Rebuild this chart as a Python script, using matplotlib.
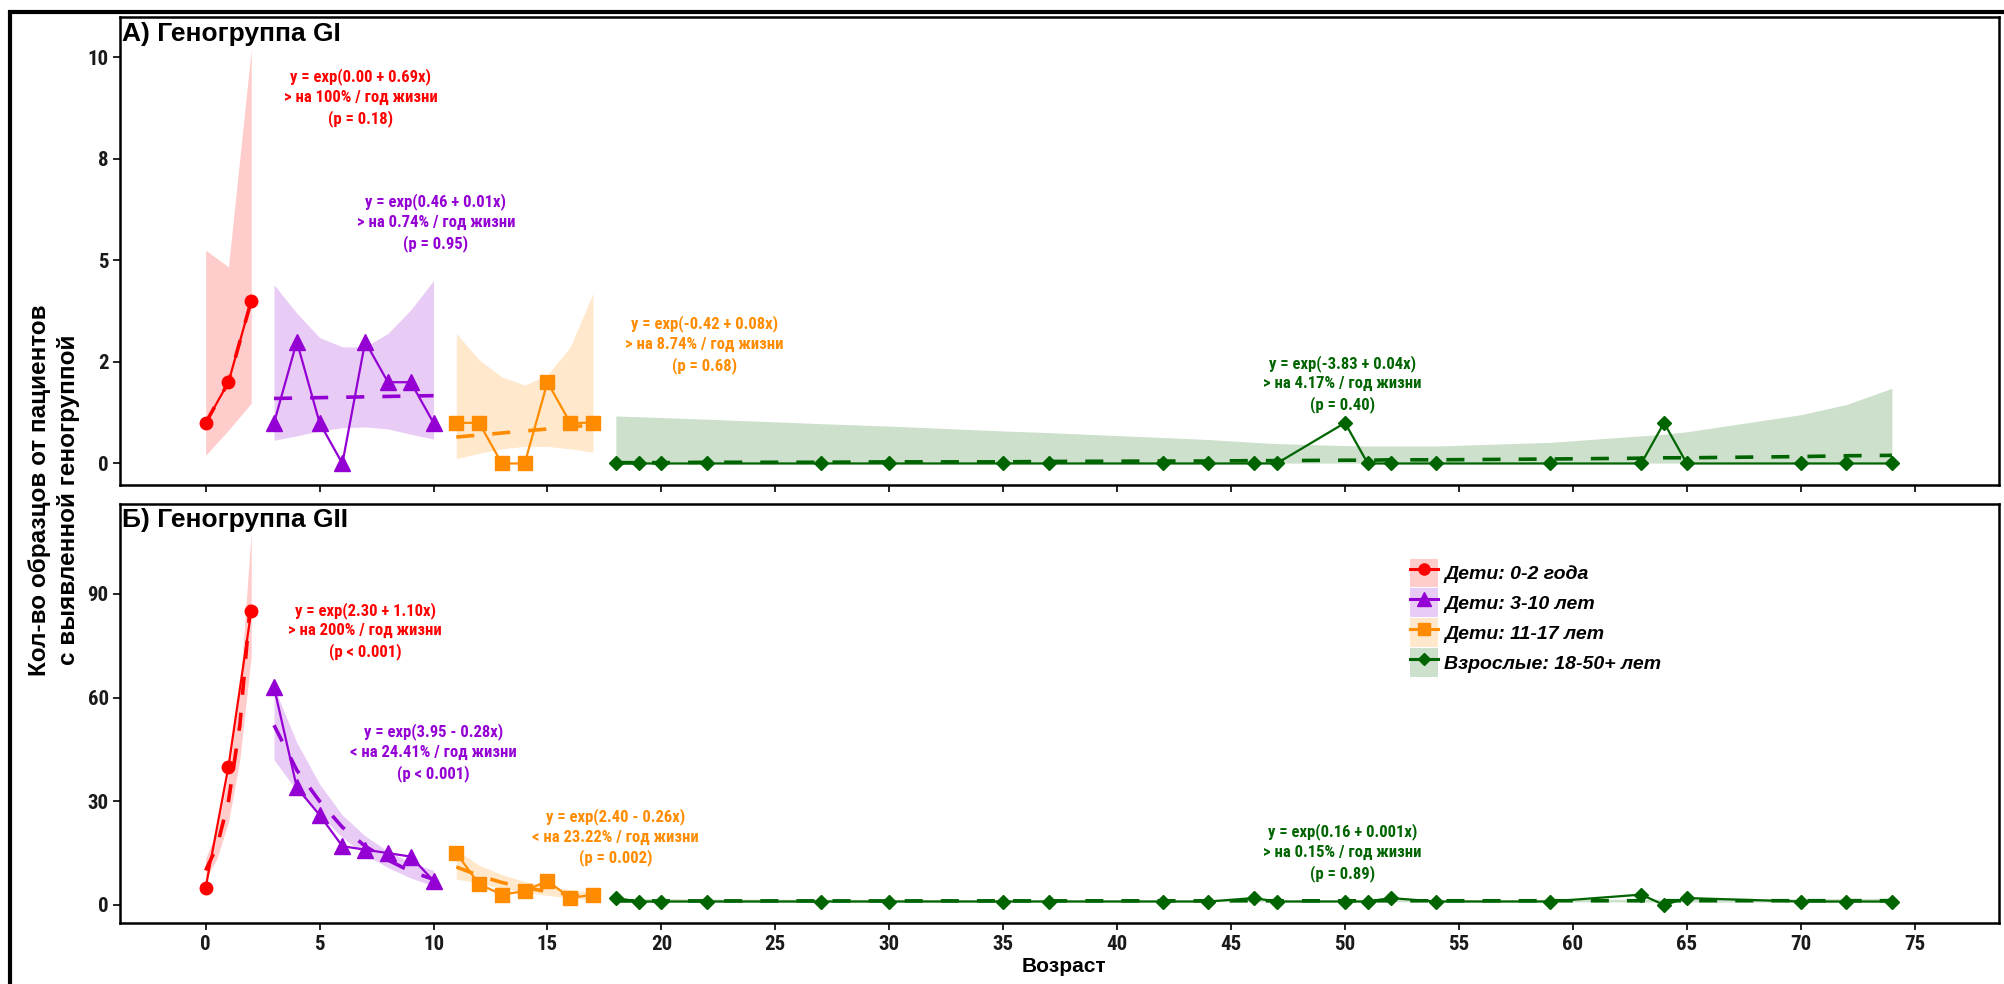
import matplotlib
matplotlib.use("Agg")
import matplotlib.pyplot as plt
from matplotlib import font_manager
from matplotlib.font_manager import FontProperties
from matplotlib.patches import Patch, Rectangle
from matplotlib.lines import Line2D
from matplotlib.legend_handler import HandlerTuple

names = {f.name for f in font_manager.fontManager.ttflist}
MAIN = "Liberation Sans" if "Liberation Sans" in names else "DejaVu Sans"


def _wt(w):
    if isinstance(w, str):
        return {"bold": 700, "semibold": 600, "demibold": 600, "heavy": 800,
                "black": 900, "extra bold": 800}.get(w, 400)
    return w


cands = []
for f in font_manager.fontManager.ttflist:
    nm = f.name
    st = str(f.stretch)
    narrow = ("Narrow" in nm or "Condensed" in nm or st in ("condensed", "semi-condensed", "extra-condensed"))
    if narrow and f.style == "normal" and _wt(f.weight) >= 600:
        pri = 9
        if "Liberation Sans Narrow" in nm:
            pri = 0
        elif "Roboto" in nm:
            pri = 1
        elif "Open Sans" in nm:
            pri = 2
        elif "Noto Sans" in nm and "CJK" not in nm and "Mono" not in nm:
            pri = 3
        elif "DejaVu Sans" in nm and "Mono" not in nm:
            pri = 4
        elif "Lato" in nm or "Inter" in nm:
            pri = 5
        if pri < 9:
            cands.append((pri, abs(_wt(f.weight) - 700), f.fname))
cands.sort()
NARROW_FILE = cands[0][2] if cands else None


def nfont(size):
    if NARROW_FILE:
        return FontProperties(fname=NARROW_FILE, size=size)
    return FontProperties(family=MAIN, weight="bold", size=size * 0.88)


# ---------------- data ----------------
ages_inf = [0, 1, 2]
ages_kid = [3, 4, 5, 6, 7, 8, 9, 10]
ages_teen = [11, 12, 13, 14, 15, 16, 17]
ages_adult = [18, 19, 20, 22, 27, 30, 35, 37, 42, 44, 46, 47, 50, 51, 52, 54, 59, 63, 64, 65, 70, 72, 74]

# GI
gi_inf = [1, 2, 4]
gi_inf_fit = [1, 2, 4]
gi_inf_lo = [0.2, 0.82, 1.48]
gi_inf_hi = [5.25, 4.84, 10.2]

gi_kid = [1, 3, 1, 0, 3, 2, 2, 1]
gi_kid_fit = [1.60, 1.61, 1.62, 1.63, 1.64, 1.65, 1.66, 1.67]
gi_kid_lo = [0.57, 0.68, 0.80, 0.88, 0.90, 0.85, 0.72, 0.60]
gi_kid_hi = [4.40, 3.70, 3.10, 2.87, 2.87, 3.20, 3.78, 4.50]

gi_teen = [1, 1, 0, 0, 2, 1, 1]
gi_teen_fit = [0.65, 0.70, 0.75, 0.80, 0.85, 0.90, 0.95]
gi_teen_lo = [0.12, 0.25, 0.36, 0.42, 0.42, 0.36, 0.28]
gi_teen_hi = [3.20, 2.55, 2.13, 1.93, 2.18, 2.87, 4.19]

gi_adult = [0, 0, 0, 0, 0, 0, 0, 0, 0, 0, 0, 0, 1, 0, 0, 0, 0, 0, 1, 0, 0, 0, 0]
gi_adult_fit = [0.02, 0.02, 0.02, 0.03, 0.03, 0.04, 0.04, 0.05, 0.06, 0.06, 0.07, 0.07,
                0.08, 0.08, 0.09, 0.09, 0.11, 0.13, 0.14, 0.14, 0.17, 0.19, 0.20]
gi_adult_lo = [0.01] * 23
gi_adult_hi = [1.17, 1.15, 1.13, 1.09, 0.98, 0.92, 0.80, 0.76, 0.64, 0.59, 0.52, 0.49,
               0.44, 0.43, 0.43, 0.43, 0.52, 0.68, 0.72, 0.78, 1.20, 1.45, 1.85]

# GII
gii_inf = [5, 40, 85]
gii_inf_fit_x = [0, 0.5, 1, 1.5, 2]
gii_inf_fit = [10, 17, 30, 52, 90]
gii_inf_lo = [7.5, 13.5, 24, 42, 72]
gii_inf_hi = [13.5, 21.5, 38, 62, 108]

gii_kid = [63, 34, 26, 17, 16, 15, 14, 7]
gii_kid_fit = [52, 39, 30, 22.5, 17, 13, 9.7, 7.4]
gii_kid_lo = [42, 33, 26, 19.5, 14.5, 10.8, 7.8, 5.5]
gii_kid_hi = [63, 47, 35, 26, 20, 15.5, 12.3, 10]

gii_teen = [15, 6, 3, 4, 7, 2, 3]
gii_teen_fit = [11, 8.5, 6.5, 5.0, 3.9, 3.0, 2.3]
gii_teen_lo = [7.5, 6.3, 4.8, 3.7, 2.8, 2.0, 1.4]
gii_teen_hi = [16, 11.5, 8.8, 6.8, 5.4, 4.4, 3.7]

gii_adult = [2, 1, 1, 1, 1, 1, 1, 1, 1, 1, 2, 1, 1, 1, 2, 1, 1, 3, 0, 2, 1, 1, 1]
gii_adult_fit = [1.17, 1.17, 1.17, 1.18, 1.18, 1.18, 1.19, 1.19, 1.20, 1.20, 1.20, 1.20,
                 1.21, 1.21, 1.21, 1.21, 1.22, 1.22, 1.23, 1.23, 1.23, 1.24, 1.24]
gii_adult_lo = [0.75, 0.78, 0.8, 0.83, 0.88, 0.9, 0.93, 0.94, 0.95, 0.95, 0.95, 0.95,
                0.95, 0.95, 0.94, 0.93, 0.9, 0.87, 0.86, 0.85, 0.8, 0.77, 0.72]
gii_adult_hi = [1.9, 1.85, 1.82, 1.75, 1.65, 1.6, 1.55, 1.54, 1.52, 1.52, 1.52, 1.52,
                1.53, 1.53, 1.54, 1.55, 1.6, 1.66, 1.68, 1.7, 1.8, 1.85, 1.95]

group_labels = ["Дети: 0-2 года", "Дети: 3-10 лет", "Дети: 11-17 лет", "Взрослые: 18-50+ лет"]
colors = ["#FF0000", "#9400D3", "#FF8C00", "#006400"]
markers = ["o", "^", "s", "D"]
msizes = [9, 11, 10, 7.5]

gi_texts = [
    "y = exp(0.00 + 0.69x)\n> на 100% / год жизни\n(p = 0.18)",
    "y = exp(0.46 + 0.01x)\n> на 0.74% / год жизни\n(p = 0.95)",
    "y = exp(-0.42 + 0.08x)\n> на 8.74% / год жизни\n(p = 0.68)",
    "y = exp(-3.83 + 0.04x)\n> на 4.17% / год жизни\n(p = 0.40)",
]
gi_text_xy = [(6.8, 9.0), (10.1, 5.93), (21.9, 2.93), (49.9, 1.96)]
gii_texts = [
    "y = exp(2.30 + 1.10x)\n> на 200% / год жизни\n(p < 0.001)",
    "y = exp(3.95 - 0.28x)\n< на 24.41% / год жизни\n(p < 0.001)",
    "y = exp(2.40 - 0.26x)\n< на 23.22% / год жизни\n(p = 0.002)",
    "y = exp(0.16 + 0.001x)\n> на 0.15% / год жизни\n(p = 0.89)",
]
gii_text_xy = [(7.0, 79.3), (10.0, 44.1), (18.0, 19.6), (49.9, 15.2)]

# ---------------- figure ----------------
fig = plt.figure(figsize=(20.04, 9.84), dpi=100)
ax1 = fig.add_axes([0.0601, 0.5071, 0.9374, 0.4753])
ax2 = fig.add_axes([0.0601, 0.0617, 0.9374, 0.4261])


def draw_panel(ax, groups, texts, text_xy):
    for i, g in enumerate(groups):
        x, y, fx, fy, lo, hi = g
        c = colors[i]
        ax.fill_between(fx, lo, hi, color=c, alpha=0.2, lw=0, zorder=1)
        ax.plot(x, y, color=c, lw=1.6, marker=markers[i], ms=msizes[i], zorder=3)
        ax.plot(fx, fy, color=c, lw=2.6, ls=(0, (5, 5)), zorder=4)
    for i, (t, (tx, ty)) in enumerate(zip(texts, text_xy)):
        ax.text(tx, ty, t, color=colors[i], ha="center", va="center",
                fontproperties=nfont(12), linespacing=1.38, zorder=5)


groups1 = [
    (ages_inf, gi_inf, ages_inf, gi_inf_fit, gi_inf_lo, gi_inf_hi),
    (ages_kid, gi_kid, ages_kid, gi_kid_fit, gi_kid_lo, gi_kid_hi),
    (ages_teen, gi_teen, ages_teen, gi_teen_fit, gi_teen_lo, gi_teen_hi),
    (ages_adult, gi_adult, ages_adult, gi_adult_fit, gi_adult_lo, gi_adult_hi),
]
groups2 = [
    (ages_inf, gii_inf, gii_inf_fit_x, gii_inf_fit, gii_inf_lo, gii_inf_hi),
    (ages_kid, gii_kid, ages_kid, gii_kid_fit, gii_kid_lo, gii_kid_hi),
    (ages_teen, gii_teen, ages_teen, gii_teen_fit, gii_teen_lo, gii_teen_hi),
    (ages_adult, gii_adult, ages_adult, gii_adult_fit, gii_adult_lo, gii_adult_hi),
]
draw_panel(ax1, groups1, gi_texts, gi_text_xy)
draw_panel(ax2, groups2, gii_texts, gii_text_xy)

xticks = list(range(0, 80, 5))
for ax in (ax1, ax2):
    ax.set_xlim(-3.74, 78.7)
    ax.set_xticks(xticks)
    for s in ax.spines.values():
        s.set_linewidth(1.8)
        s.set_color("black")
    ax.tick_params(axis="both", length=5, width=1.2, color="black")

ax1.set_ylim(-0.53, 10.98)
ax1.set_yticks([0, 2.5, 5, 7.5, 10])
ax1.set_yticklabels(["0", "2", "5", "8", "10"])
ax1.set_xticklabels([])
ax2.set_ylim(-5.3, 116)
ax2.set_yticks([0, 30, 60, 90])
ax2.set_xticklabels([str(v) for v in xticks])

for ax in (ax1, ax2):
    for lab in ax.get_xticklabels() + ax.get_yticklabels():
        lab.set_fontproperties(nfont(15))
        lab.set_color("#1a1a1a")

ax1.text(0.001, 0.99, "A) Геногруппа GI", transform=ax1.transAxes, ha="left", va="top",
         fontsize=19, fontweight="bold", family=MAIN, zorder=6)
ax2.text(0.001, 0.99, "Б) Геногруппа GII", transform=ax2.transAxes, ha="left", va="top",
         fontsize=19, fontweight="bold", family=MAIN, zorder=6)

ylab_y = 1 - 490 / 984
fig.text(40 / 2004, ylab_y, "Кол-во образцов от пациентов",
         rotation=90, ha="center", va="center", fontsize=17.5, fontweight="bold", family=MAIN)
fig.text(69 / 2004, ylab_y - 0.01, "с выявленной геногруппой",
         rotation=90, ha="center", va="center", fontsize=17.5, fontweight="bold", family=MAIN)
fig.text(1064 / 2004, 1 - 967 / 984, "Возраст", ha="center", va="center", fontsize=15,
         fontweight="bold", family=MAIN)

handles = []
for i in range(4):
    handles.append((Patch(facecolor=colors[i], alpha=0.2, edgecolor="none"),
                    Line2D([], [], color=colors[i], lw=2.2, marker=markers[i], ms=msizes[i] - 1)))
ax2.legend(handles, group_labels, handler_map={tuple: HandlerTuple(ndivide=1, pad=0)},
           loc="upper left", bbox_to_anchor=(0.6865, 0.87), frameon=False,
           prop=dict(family=MAIN, weight="bold", style="italic", size=14),
           handlelength=1.45, handleheight=1.9, labelspacing=0.06, handletextpad=0.3,
           borderaxespad=0, borderpad=0)

fig.add_artist(Rectangle((10 / 2004, -0.05), 1.2, 1 - 11.7 / 984 + 0.05,
                         transform=fig.transFigure, fill=False, lw=3, ec="black"))

fig.savefig("out.png", dpi=100)
